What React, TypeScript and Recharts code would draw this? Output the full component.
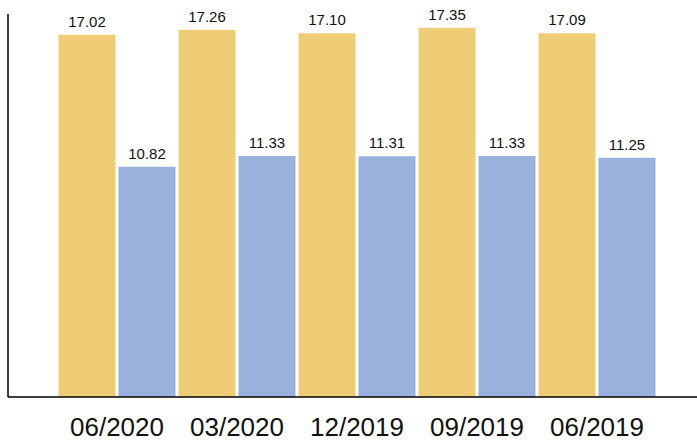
import React from 'react';
import { BarChart, Bar, XAxis, YAxis, LabelList } from 'recharts';

const periods = ['06/2020', '03/2020', '12/2019', '09/2019', '06/2019'];
const seriesA = [17.02, 17.26, 17.1, 17.35, 17.09];
const seriesB = [10.82, 11.33, 11.31, 11.33, 11.25];

const data = periods.map((p, i) => ({ name: p, a: seriesA[i], b: seriesB[i] }));

const font = 'Arial, "Liberation Sans", sans-serif';

const App: React.FC = () => {
  return (
    <div style={{ position: 'absolute', left: 0, top: 0, fontFamily: font }}>
      <BarChart
        width={697}
        height={441}
        data={data}
        margin={{ top: 14, right: 0, left: 6, bottom: 0 }}
        barGap={3}
        barCategoryGap={1.5}
      >
        <XAxis
          dataKey="name"
          height={44}
          padding={{ left: 49, right: 40 }}
          axisLine={{ stroke: '#000', strokeWidth: 1.5 }}
          tickLine={false}
          tickSize={0}
          tickMargin={21}
          tick={{ fontSize: 26, fill: '#111', fontFamily: font }}
        />
        <YAxis
          width={2}
          domain={[0, 18]}
          axisLine={{ stroke: '#000', strokeWidth: 1.5 }}
          tickLine={false}
          tick={false}
        />
        <Bar dataKey="a" fill="#EFCD76" isAnimationActive={false}>
          <LabelList
            dataKey="a"
            position="top"
            offset={8}
            formatter={(v: number) => v.toFixed(2)}
            style={{ fontSize: 15, fill: '#111', fontFamily: font }}
          />
        </Bar>
        <Bar dataKey="b" fill="#98B1DD" isAnimationActive={false}>
          <LabelList
            dataKey="b"
            position="top"
            offset={8}
            formatter={(v: number) => v.toFixed(2)}
            style={{ fontSize: 15, fill: '#111', fontFamily: font }}
          />
        </Bar>
      </BarChart>
    </div>
  );
};

export default App;
